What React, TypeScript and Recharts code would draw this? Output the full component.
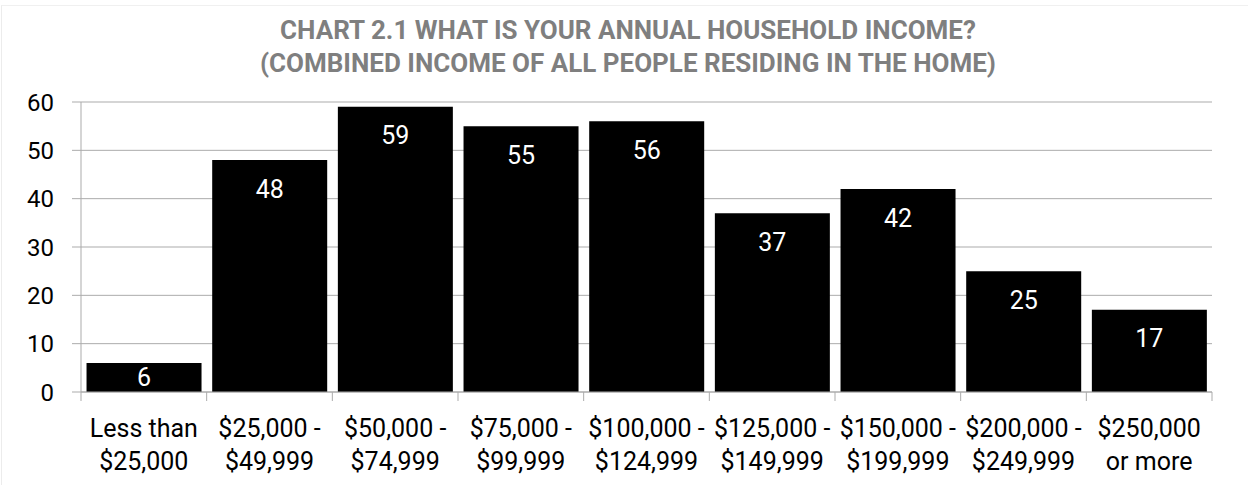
import React from 'react';
import { BarChart, Bar, XAxis, YAxis, CartesianGrid, LabelList } from 'recharts';

const categories = [
  'Less than\n$25,000',
  '$25,000 -\n$49,999',
  '$50,000 -\n$74,999',
  '$75,000 -\n$99,999',
  '$100,000 -\n$124,999',
  '$125,000 -\n$149,999',
  '$150,000 -\n$199,999',
  '$200,000 -\n$249,999',
  '$250,000\nor more',
];
const values = [6, 48, 59, 55, 56, 37, 42, 25, 17];
const yTicks = [0, 10, 20, 30, 40, 50, 60];
const titleLines = [
  'CHART 2.1 WHAT IS YOUR ANNUAL HOUSEHOLD INCOME?',
  '(COMBINED INCOME OF ALL PEOPLE RESIDING IN THE HOME)',
];

const data = categories.map((c, i) => ({ name: c, value: values[i] }));

const W = 1248;
const H = 485;
const LEFT = 81;
const RIGHT = 36;
const FONT = 'Roboto, "Noto Sans", sans-serif';
const AXIS = '#ababab';
const band = (W - LEFT - RIGHT) / categories.length;

const XTick = (props: any) => {
  const { x, y, payload, index } = props;
  const lines = String(payload.value).split('\n');
  const isLast = index === categories.length - 1;
  return (
    <g>
      <line x1={x - band / 2} x2={x - band / 2} y1={y - 8} y2={y + 1} stroke={AXIS} strokeWidth={1} />
      {isLast && (
        <line x1={x + band / 2} x2={x + band / 2} y1={y - 8} y2={y + 1} stroke={AXIS} strokeWidth={1} />
      )}
      <text x={x} y={y} textAnchor="middle" fontFamily={FONT} fontSize={25} fill="#000">
        {lines.map((l, i) => (
          <tspan key={i} x={x} dy={i === 0 ? 37 : 33}>{l}</tspan>
        ))}
      </text>
    </g>
  );
};

const BarLabel = (props: any) => {
  const { x, y, width, height, value } = props;
  const cy = Math.min(y + 29, y + height / 2);
  return (
    <text x={x + width / 2} y={cy} textAnchor="middle" dominantBaseline="central" fontFamily={FONT} fontSize={25} fill="#fff">
      {value}
    </text>
  );
};

export default function App() {
  return (
    <div style={{ position: 'fixed', left: 0, top: 0, width: W, height: H, background: '#fff' }}>
      <div style={{ position: 'absolute', left: 1, top: 5, right: 0, bottom: 0, borderTop: '1px solid #f0f0f0', borderLeft: '1px solid #ececec' }} />
      <div style={{ position: 'absolute', left: 4, top: 0, width: W, textAlign: 'center', fontFamily: FONT, fontWeight: 700, fontSize: 26, color: '#7f7f7f' }}>
        <div style={{ position: 'absolute', left: 0, width: W, top: 14, lineHeight: '32px' }}>{titleLines[0]}</div>
        <div style={{ position: 'absolute', left: 0, width: W, top: 47, lineHeight: '32px' }}>{titleLines[1]}</div>
      </div>
      <div style={{ position: 'absolute', left: 0, top: 0 }}>
        <BarChart width={W} height={H} data={data} margin={{ top: 102, right: RIGHT, bottom: 0, left: 0 }} barCategoryGap="4.4%">
          <CartesianGrid vertical={false} stroke={AXIS} strokeWidth={1} />
          <XAxis dataKey="name" height={93} interval={0} axisLine={{ stroke: AXIS }} tickLine={false} tick={<XTick />} />
          <YAxis
            width={LEFT}
            domain={[0, 60]}
            ticks={yTicks}
            interval={0}
            axisLine={{ stroke: AXIS }}
            tickLine={{ stroke: AXIS }}
            tickSize={9}
            tickMargin={18}
            tick={{ fontFamily: FONT, fontSize: 24, fill: '#000' }}
          />
          <Bar dataKey="value" fill="#000" isAnimationActive={false}>
            <LabelList dataKey="value" content={<BarLabel />} />
          </Bar>
        </BarChart>
      </div>
    </div>
  );
}
